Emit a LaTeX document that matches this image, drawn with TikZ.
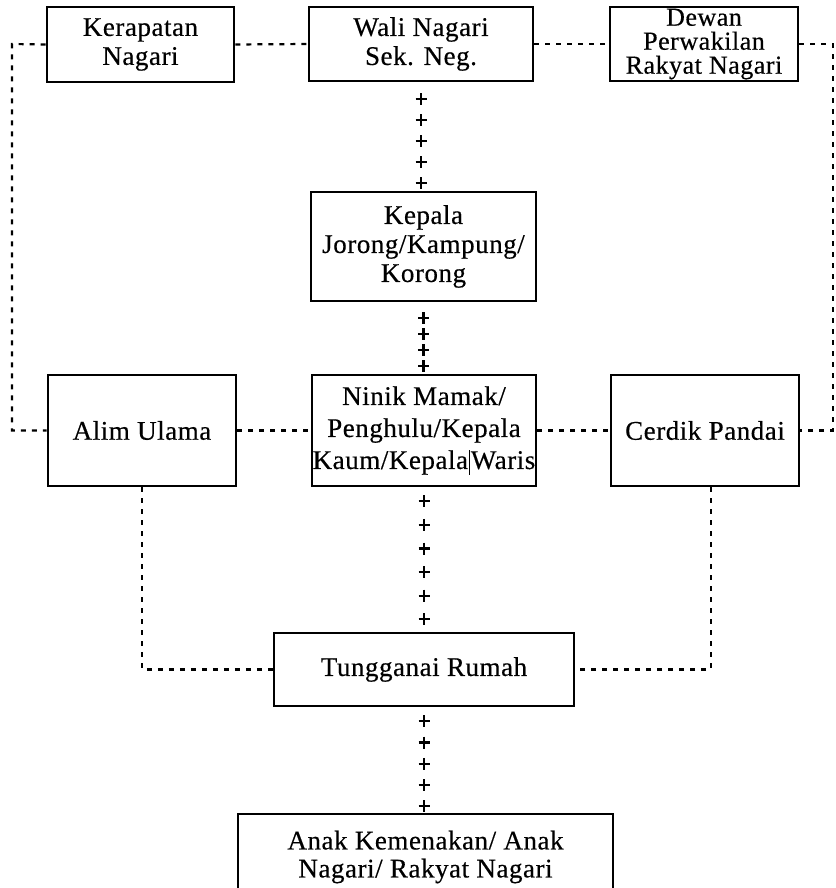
\documentclass[tikz,border=0pt]{standalone}
\usepackage{fontspec}
\setmainfont{Liberation Serif}[LetterSpace=2,FakeBold=0.4]
\usetikzlibrary{decorations.markings}

\begin{document}
\begin{tikzpicture}
        [
            x=1pt,y=-1pt,
            box/.style={rectangle,draw=black,line width=2.6pt,align=center,inner sep=0pt,
                font=\fontsize{27}{29}\selectfont},
            dashline/.style={line width=2.2pt,dash pattern=on 5pt off 6pt},
            plusline/.style={postaction={decorate},decoration={markings,
                mark=between positions #1 with {\draw[line width=2.2pt] (-6pt,0) -- (6pt,0) (0,-5.5pt) -- (0,5.5pt);}}},
        ]
    \useasboundingbox (0,0) rectangle (835,888);

    \node[box,minimum width=187,minimum height=75] (ker) at (140.5,44.5){Kerapatan\\Nagari};
    \node[box,minimum width=224,minimum height=74] (wali) at (421,44){Wali Nagari\\Sek. Neg.};
    \node[box,minimum width=188,minimum height=74,font=\fontsize{26}{24}\selectfont] (dewan) at (704,44){Dewan\\Perwakilan\\Rakyat Nagari};
    \node[box,minimum width=225,minimum height=109] (kep) at (423.5,246.5){Kepala\\Jorong/Kampung/\\Korong};
    \node[box,minimum width=188,minimum height=111] (alim) at (142,430.5){Alim Ulama};
    \node[box,minimum width=224,minimum height=111,font=\fontsize{27}{32}\selectfont] (ninik) at (424,430.5){Ninik Mamak/\\Penghulu/Kepala\\Kaum/Kepala{\kern1pt\vrule width 0.8pt\kern1pt}Waris};
    \node[box,minimum width=188,minimum height=111] (cerdik) at (705,430.5){Cerdik Pandai};
    \node[box,minimum width=300,minimum height=73] (tung) at (424,669.5){Tungganai Rumah};
    \node[box,minimum width=375,minimum height=86,font=\fontsize{27}{28}\selectfont] (anak) at (425.5,857){Anak Kemenakan/ Anak\\Nagari/ Rakyat Nagari};

    \coordinate (tl) at (12,44);
    \coordinate (bl) at (12,430.5);
    \coordinate (tr) at (833,44);
    \coordinate (br) at (833,430.5);

    \draw[dashline] (ker.west) -- (tl) -- (bl) -- (alim.west);
    \draw[dashline] (ker.east) -- (wali.west);
    \draw[dashline] (wali.east) -- (dewan.west);
    \draw[dashline] (dewan.east) -- (tr) -- (br) -- (cerdik.east);
    \draw[dashline] (alim.east) -- (ninik.west);
    \draw[dashline] (ninik.east) -- (cerdik.west);
    \draw[dashline] (alim.south) |- (tung.west);
    \draw[dashline] ([xshift=6pt]cerdik.south) |- (tung.east);

    \path[plusline={17pt and 102pt step 21pt}] (wali.south) -- (wali.south |- kep.north);
    \path[plusline={16pt and 65pt step 16pt}] (kep.south) -- (kep.south |- ninik.north);
    \path[plusline={14pt and 133pt step 23.6pt}] (ninik.south) -- (ninik.south |- tung.north);
    \path[plusline={14pt and 100pt step 21.25pt}] (tung.south) -- (tung.south |- anak.north);
\end{tikzpicture}
\end{document}
